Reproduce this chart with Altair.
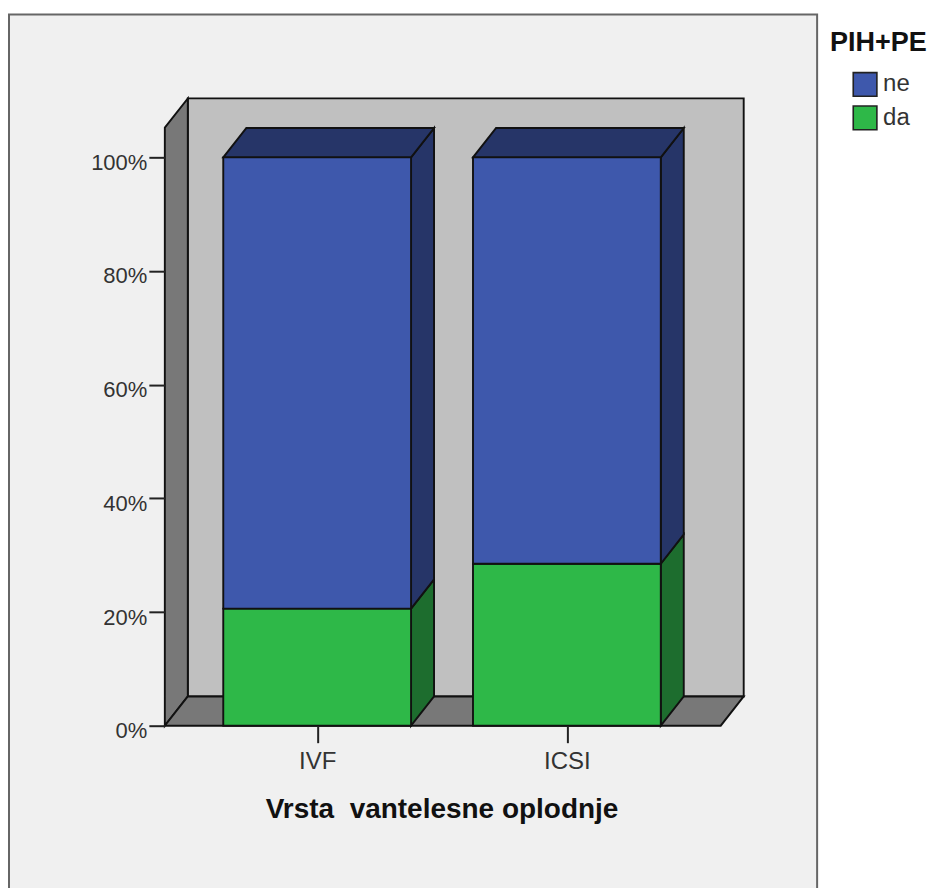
import altair as alt
import pandas as pd

categories = ["IVF", "ICSI"]
positions = [1, 2]
series = ["ne", "da"]
da_values = [20.6, 28.5]
ne_values = [79.4, 71.5]
y_ticks = [0, 20, 40, 60, 80, 100]

HALF = 0.376
DX = 0.092
DY = 5.15
X0, X1 = 0.39, 2.71
Y1 = 110.37
W, H = 580, 628
FLOOR_R = 2.616
BACK_R = FLOOR_R + DX
XL = X0 + DX

BG, WALL, DARK = "#f0f0f0", "#c0c0c0", "#787878"
BLUE, BLUE_D = "#3e58ac", "#263568"
GREEN, GREEN_D = "#2eb848", "#1d6d2e"
SW = 1.9
TEXT = "#333333"
FONT = "Liberation Sans"

xs = alt.Scale(domain=[X0, X1], nice=False, zero=False)
ys = alt.Scale(domain=[0, Y1], nice=False, zero=False)

lab = " : ".join(f"datum.value == {p} ? '{c}'" for p, c in zip(positions, categories)) + " : ''"
x_axis = alt.Axis(values=positions, labelExpr=lab, title="Vrsta \u00a0vantelesne oplodnje", domain=False, grid=False,
                  tickSize=17, tickColor="#222222", tickWidth=2, zindex=1,
                  labelFont=FONT, labelFontSize=24, labelColor=TEXT, labelPadding=7,
                  labelFlush=False,
                  titleFont=FONT, titleFontSize=28, titleFontWeight="bold", titleColor="#111111",
                  titleX=277, titleY=70, titleAnchor="middle", titleAlign="center")
y_axis = alt.Axis(values=y_ticks, labelExpr="datum.value + '%'", title=None, domain=False, grid=False,
                  tickSize=16, tickColor="#222222", tickWidth=2, zindex=1,
                  labelFont=FONT, labelFontSize=22, labelColor=TEXT, labelPadding=2, labelOffset=5)


def X():
    return alt.X("x:Q", scale=xs, axis=x_axis)


def Y():
    return alt.Y("y:Q", scale=ys, axis=y_axis)


frame = alt.Chart(pd.DataFrame({"k": [0]})).mark_rect(fill=BG, stroke="#666666", strokeWidth=2).encode(
    x=alt.value(-156), x2=alt.value(653), y=alt.value(-84), y2=alt.value(800))

back = alt.Chart(pd.DataFrame({"x": [XL], "x2": [BACK_R], "y": [DY], "y2": [Y1]})).mark_rect(
    fill=WALL, stroke="#111111", strokeWidth=SW).encode(
    x=X(), x2="x2:Q", y=Y(), y2="y2:Q")

left = alt.Chart(pd.DataFrame({"x": [X0, XL], "y": [0, DY], "y2": [Y1 - DY, Y1]})).mark_area(
    fill=DARK, stroke="#111111", strokeWidth=SW).encode(x=X(), y=Y(), y2="y2:Q")

floor = alt.Chart(pd.DataFrame({"y": [0, DY], "x": [X0, XL], "x2": [FLOOR_R, BACK_R]})).mark_area(
    orient="horizontal", fill=DARK, stroke="#111111", strokeWidth=SW).encode(y=Y(), x=X(), x2="x2:Q")

layers = [frame, back, left, floor]

front_rows = []
for p, da, ne in zip(positions, da_values, ne_values):
    right = p + HALF
    for name, lo, hi, dark in [("da", 0, da, GREEN_D), ("ne", da, da + ne, BLUE_D)]:
        side = pd.DataFrame({"x": [right, right + DX], "y": [lo, lo + DY], "y2": [hi, hi + DY]})
        layers.append(alt.Chart(side).mark_area(fill=dark, stroke="#111111", strokeWidth=SW).encode(
            x=X(), y=Y(), y2="y2:Q"))
        front_rows.append({"x": p - HALF, "x2": right, "y": lo, "y2": hi, "s": name})
    top = pd.DataFrame({"y": [da + ne, da + ne + DY], "x": [p - HALF, p - HALF + DX], "x2": [right, right + DX]})
    layers.append(alt.Chart(top).mark_area(orient="horizontal", fill=BLUE_D, stroke="#111111", strokeWidth=SW).encode(
        y=Y(), x=X(), x2="x2:Q"))

fronts = alt.Chart(pd.DataFrame(front_rows)).mark_rect(stroke="#111111", strokeWidth=SW).encode(
    x=X(), x2="x2:Q", y=Y(), y2="y2:Q",
    fill=alt.Fill("s:N", scale=alt.Scale(domain=series, range=[BLUE, GREEN]),
                  legend=alt.Legend(title="PIH+PE", orient="none", legendX=666, legendY=-68,
                                    titleFont=FONT, titleFontSize=27, titleFontWeight="bold",
                                    titleColor="#111111", titlePadding=14,
                                    symbolType="square", symbolSize=560, symbolStrokeColor="#222222",
                                    symbolStrokeWidth=1.6, symbolOpacity=1, symbolOffset=22,
                                    labelFont=FONT, labelFontSize=24, labelColor=TEXT, labelOffset=5,
                                    rowPadding=1.5)))
layers.append(fronts)

chart = alt.layer(*layers).properties(
    width=W, height=H, padding={"left": 0, "top": 5, "right": 0, "bottom": 0}, background="white"
).configure_view(stroke=None)

chart.save("out.html", embed_options={"renderer": "svg", "actions": False})
